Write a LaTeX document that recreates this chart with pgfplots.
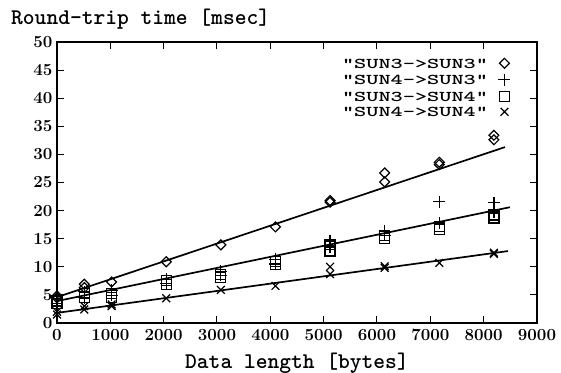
\documentclass[border=0pt]{standalone}
\usepackage{graphicx}
\usepackage{pgfplots}
\pgfplotsset{compat=1.18}
\usepackage{pgfplotstable}
\newcommand{\legtext}[1]{\scalebox{1.55}[1]{#1}}

\pgfplotstableread{
x y
0 4.8
0 4.5
512 6.9
512 6.3
1024 7.3
2048 10.9
3072 13.9
4096 17.1
5120 21.5
5120 21.8
6144 26.7
6144 25.1
7168 28.6
7168 28.2
8192 33.4
8192 32.6
}\sunthreethree

\pgfplotstableread{
x y
0 4.3
0 3.5
512 5.6
512 4.5
1024 5.8
1024 4.9
2048 7.8
2048 7.0
3072 9.2
3072 8.5
4096 11.3
4096 10.5
5120 14.6
5120 13.5
6144 16.3
6144 15.6
7168 21.6
7168 17.8
8192 21.4
8192 19.8
}\sunfourthree

\pgfplotstableread{
x y
0 3.4
0 3.9
512 4.6
512 5.3
1024 4.6
1024 5.3
2048 7.6
2048 6.9
3072 8.7
3072 8.1
4096 10.9
4096 10.4
5120 13.9
5120 12.8
6144 15.5
6144 15.0
7168 17.1
7168 16.6
8192 19.2
8192 18.7
}\sunthreefour

\pgfplotstableread{
x y
0 1.5
0 2.0
512 2.4
512 3.0
1024 3.0
1024 3.3
2048 4.4
3072 5.9
4096 6.6
5120 10.0
5120 8.7
6144 10.1
6144 9.8
7168 10.7
8192 12.5
8192 12.3
}\sunfourfour

\begin{document}
\begin{tikzpicture}
\path[use as bounding box] (-57bp,-50bp) rectangle (504bp,323bp);
\begin{axis}[
  at={(0,0)}, anchor=south west,
  scale only axis,
  width=480bp, height=281bp,
  xmin=0, xmax=9000, ymin=0, ymax=50,
  xtick={0,1000,...,9000},
  xticklabels={0,1000,2000,3000,4000,5000,6000,7000,8000,9000},
  ytick={0,5,...,50},
  yticklabels={0,5,10,15,20,25,30,35,40,45,50},
  tick align=inside,
  major tick length=7bp,
  tick style={line width=1bp, black},
  axis line style={line width=1.4bp},
  x tick label style={font=\bfseries\fontsize{17}{19}\selectfont, yshift=-3bp},
  y tick label style={font=\bfseries\fontsize{17}{19}\selectfont, xshift=-1bp},
  legend plot pos=right,
  legend cell align=right,
  legend style={
    draw=none, fill=none, inner sep=0pt, outer sep=0pt,
    at={(axis cs:8503,47.1)}, anchor=north east,
    font=\fontsize{15}{15}\selectfont\ttfamily\bfseries,
    nodes={inner sep=0pt, text height=10bp, text depth=0bp},
    row sep=5.5bp, column sep=10.5bp,
  },
]
\addplot[only marks, mark=square, mark size=3.5bp, mark options={rotate=45, line width=1.2bp}] table {\sunthreethree};
\addlegendentry{\legtext{"SUN3->SUN3"}}
\addplot[only marks, mark=+, mark size=6bp, mark options={line width=1.2bp}] table {\sunfourthree};
\addlegendentry{\legtext{"SUN4->SUN3"}}
\addplot[only marks, mark=square, mark size=5bp, mark options={line width=1.2bp}] table {\sunthreefour};
\addlegendentry{\legtext{"SUN3->SUN4"}}
\addplot[only marks, mark=x, mark size=5.5bp, mark options={line width=1.2bp}] table {\sunfourfour};
\addlegendentry{\legtext{"SUN4->SUN4"}}
\addplot[forget plot, line width=1.7bp] coordinates {(0,4.6) (8400,31.3)};
\addplot[forget plot, line width=1.7bp] coordinates {(0,3.9) (8490,20.6)};
\addplot[forget plot, line width=1.7bp] coordinates {(0,1.8) (8456,12.8)};
\end{axis}
\node[anchor=base west, inner sep=0pt, font=\fontsize{22.5}{24}\selectfont\ttfamily\bfseries] at (-46bp,298bp) {Round-trip time [msec]};
\node[anchor=base, inner sep=0pt, font=\fontsize{22.5}{24}\selectfont\ttfamily\bfseries] at (240bp,-45bp) {Data length [bytes]};
\end{tikzpicture}
\end{document}
